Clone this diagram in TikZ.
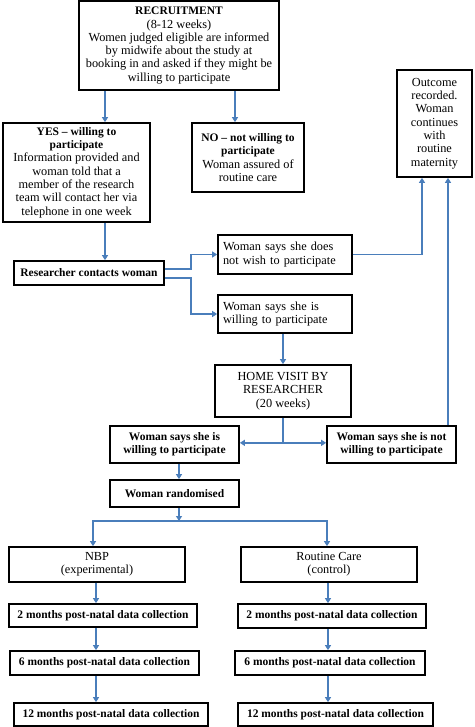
\documentclass[tikz,border=0pt]{standalone}
\usepackage{fontspec}
\setmainfont{Liberation Serif}
\usetikzlibrary{arrows.meta,calc}
\definecolor{lblue}{RGB}{74,126,187}
\newcommand{\bfsm}[1]{{\fontsize{11.5}{13.3}\selectfont\bfseries #1}}
\begin{document}
\begin{tikzpicture}[x=1pt,y=-1pt,
  box/.style={draw=black, line width=1.7pt, fill=white, align=center, inner sep=1pt,
    font=\fontsize{12.3}{13.3}\selectfont},
  lbox/.style={box, align=left},
  bf/.style={font=\fontsize{11.5}{13.3}\selectfont\bfseries},
  conn/.style={draw=lblue, line width=1.5pt},
  arr/.style={conn, -{Triangle[length=5pt,width=6pt]}}]
\useasboundingbox (0,0) rectangle (474,727);
% nodes
\node[box, minimum width=200, minimum height=89] (rec) at (179,45.5)
  {\bfsm{RECRUITMENT}\\(8-12 weeks)\\Women judged eligible are informed\\by midwife about the study at\\booking in and asked if they might be\\willing to participate};
\node[box, minimum width=147, minimum height=99] (yes) at (76.5,172.5)
  {\bfsm{YES – willing to}\\\bfsm{participate}\\Information provided and\\woman told that a\\member of the research\\team will contact her via\\telephone in one week};
\node[box, minimum width=112, minimum height=69] (no) at (248,157.5)
  {\bfsm{NO – not willing to}\\\bfsm{participate}\\Woman assured of\\routine care};
\node[box, minimum width=75, minimum height=107] (out) at (434.5,123.5)
  {Outcome\\recorded.\\Woman\\continues\\with\\routine\\maternity};
\node[box, bf, minimum width=150, minimum height=24] (con) at (89,273)
  {Researcher contacts woman};
\node[lbox, minimum width=134, minimum height=39, text width=124] (nw) at (285,254.5)
  {Woman says she does\\not wish to participate};
\node[lbox, minimum width=134, minimum height=38, text width=124] (w1) at (285,314)
  {Woman says she is\\willing to participate};
\node[box, minimum width=136, minimum height=52] (home) at (283,391)
  {HOME VISIT BY\\RESEARCHER\\(20 weeks)};
\node[box, bf, minimum width=129, minimum height=37] (w2) at (174.5,444.5)
  {Woman says she is\\willing to participate};
\node[box, bf, minimum width=129, minimum height=37] (nw2) at (391.5,444.5)
  {Woman says she is not\\willing to participate};
\node[box, bf, minimum width=129, minimum height=27] (rand) at (174.5,493.5)
  {Woman randomised};
\node[box, minimum width=176, minimum height=35] (nbp) at (97,564.5)
  {NBP\\(experimental)};
\node[box, minimum width=176, minimum height=35] (rc) at (329,564.5)
  {Routine Care\\(control)};
\node[box, bf, minimum width=188, minimum height=23] (m2l) at (103,615.5)
  {2 months post-natal data collection};
\node[box, bf, minimum width=188, minimum height=24] (m2r) at (332,616)
  {2 months post-natal data collection};
\node[box, bf, minimum width=189, minimum height=24] (m6l) at (104.5,663)
  {6 months post-natal data collection};
\node[box, bf, minimum width=190, minimum height=24] (m6r) at (330,663)
  {6 months post-natal data collection};
\node[box, bf, minimum width=194, minimum height=23] (m12l) at (111,714.5)
  {12 months post-natal data collection};
\node[box, bf, minimum width=195, minimum height=23] (m12r) at (335.5,714.5)
  {12 months post-natal data collection};
% helper coordinates
\coordinate (xa) at (105,0);
\coordinate (xb) at (235,0);
\coordinate (xc) at (422,0);
\coordinate (xd) at (448,0);
\coordinate (xe) at (179,0);
\coordinate (xl) at (96,0);
\coordinate (xr) at (328,0);
\coordinate (sp) at (179,521);
\coordinate (spl) at (93,0);
\coordinate (spr) at (327,0);
% connectors
\draw[arr] (xa |- rec.south) -- (xa |- yes.north);
\draw[arr] (xb |- rec.south) -- (xb |- no.north);
\draw[arr] (xa |- yes.south) -- (xa |- con.north);
\draw[arr] ([yshift=4pt]con.east) -- ++(26,0) |- (nw.west);
\draw[arr] ([yshift=-5pt]con.east) -- ++(26,0) |- (w1.west);
\draw[arr] (nw.east) -| (xc |- out.south);
\draw[arr] (xd |- nw2.north) -- (xd |- out.south);
\draw[arr] (w1.south -| home.north) -- (home.north);
\coordinate (hs) at ($(home.south)+(0,25)$);
\draw[conn] (home.south) -- (hs);
\draw[arr] (hs) -- (hs -| w2.east);
\draw[arr] (hs) -- (hs -| nw2.west);
\draw[arr] (xe |- w2.south) -- (xe |- rand.north);
\draw[arr] (xe |- rand.south) -- (sp);
\draw[arr] (sp) -| (spl |- nbp.north);
\draw[arr] (sp) -| (spr |- rc.north);
\draw[arr] (xl |- nbp.south) -- (xl |- m2l.north);
\draw[arr] (xl |- m2l.south) -- (xl |- m6l.north);
\draw[arr] (xl |- m6l.south) -- (xl |- m12l.north);
\draw[arr] (xr |- rc.south) -- (xr |- m2r.north);
\draw[arr] (xr |- m2r.south) -- (xr |- m6r.north);
\draw[arr] (xr |- m6r.south) -- (xr |- m12r.north);
\end{tikzpicture}
\end{document}
